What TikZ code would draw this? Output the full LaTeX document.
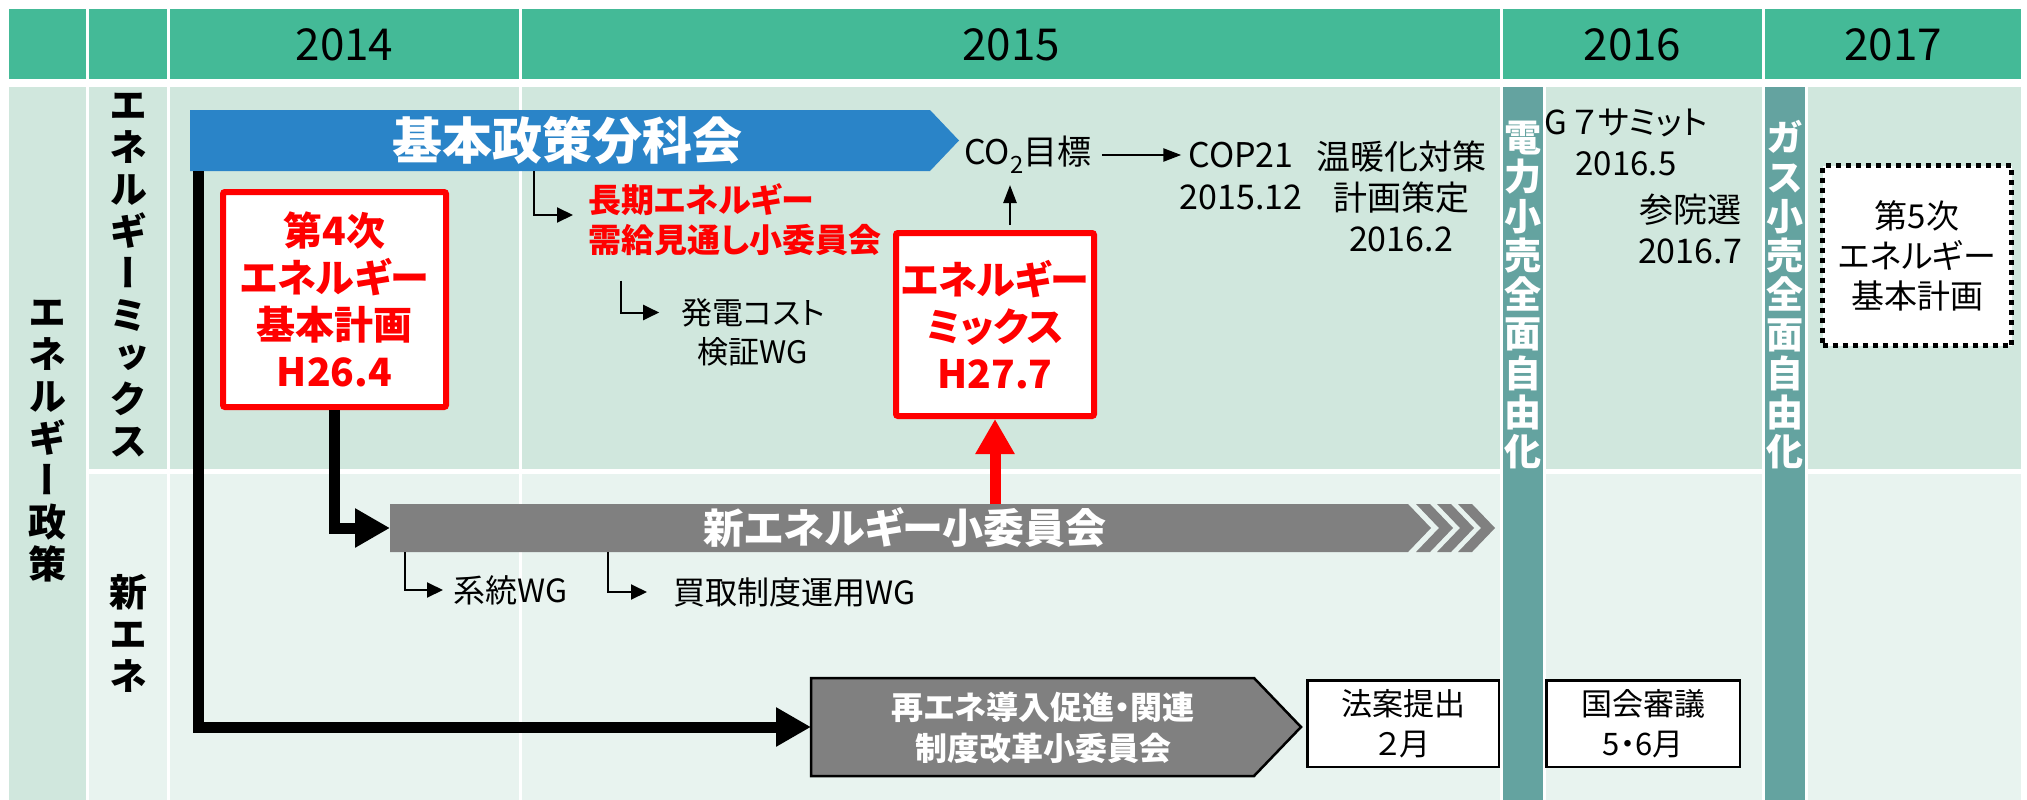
\documentclass[tikz,border=0pt]{standalone}
\usepackage{fontspec}
\setmainfont{Noto Sans CJK JP}[RawFeature=+palt]
\newfontfamily\jpv{Noto Sans CJK JP}[RawFeature=+vert]
\usetikzlibrary{arrows.meta}
\definecolor{hdr}{HTML}{44BA97}
\definecolor{upbg}{HTML}{D0E7DD}
\definecolor{lobg}{HTML}{E8F3EF}
\definecolor{tealbar}{HTML}{64A3A0}
\definecolor{blu}{HTML}{2A84C8}
\definecolor{gry}{HTML}{808080}
\tikzset{
  yr/.style={inner sep=0pt, font=\fontsize{44}{50}\selectfont},
  vtxt/.style={align=center, inner sep=0pt, font=\jpv\bfseries\fontsize{38}{42}\selectfont},
  barlbl/.style={align=center, inner sep=0pt, text=white, font=\jpv\bfseries\fontsize{37}{39.25}\selectfont},
  redbox/.style={draw=red, line width=6pt, fill=white, rounded corners=2pt, align=center, text=red, font=\bfseries\fontsize{39}{47}\selectfont, inner sep=0pt},
  fatarrow/.style={line width=11pt, -{Triangle[length=35pt,width=37pt]}},
  thinarrow/.style={line width=2pt, -{Triangle[length=16pt,width=15pt]}},
  midarrow/.style={line width=2.5pt, -{Triangle[length=18pt,width=13pt]}},
  note/.style={align=center, inner sep=0pt, font=\fontsize{34}{41}\selectfont},
  wbox/.style={draw=black, line width=2.5pt, fill=white, align=center, inner sep=0pt, font=\fontsize{31}{40}\selectfont},
  ghost/.style={inner sep=0pt, outer sep=0pt, draw=none},
}
\begin{document}
\begin{tikzpicture}[x=1pt,y=-1pt]
\useasboundingbox (0,0) rectangle (2027,800);
\fill[white] (0,0) rectangle (2027,800);
% header
\fill[hdr] (9,9) rectangle (86,79);
\fill[hdr] (89,9) rectangle (167,79);
\fill[hdr] (170,9) rectangle (519,79);
\fill[hdr] (522,9) rectangle (1500,79);
\fill[hdr] (1503,9) rectangle (1762,79);
\fill[hdr] (1765,9) rectangle (2021,79);
\node[yr] (y14) at (344.5,45) {2014};
\node[yr] (y15) at (1011,45) {2015};
\node[yr] (y16) at (1632.5,45) {2016};
\node[yr] (y17) at (1893,45) {2017};
% body
\fill[upbg] (9,87) rectangle (86,800);
\fill[upbg] (89,87) rectangle (167,469);
\fill[lobg] (89,474) rectangle (167,800);
\foreach \a/\b in {170/519,522/1500,1546/1762,1808/2021}{
  \fill[upbg] (\a,87) rectangle (\b,469);
  \fill[lobg] (\a,474) rectangle (\b,800);
}
\fill[tealbar] (1503,87) rectangle (1543,800);
\fill[tealbar] (1765,87) rectangle (1805,800);
% side labels
\node[vtxt] (vpol) at (47.5,441) {エ\\ネ\\ル\\ギ\\ー\\政\\策};
\node[vtxt] (vmix) at (128,275) {エ\\ネ\\ル\\ギ\\ー\\ミ\\ッ\\ク\\ス};
\node[vtxt] (vnew) at (128,633) {新\\エ\\ネ};
\node[barlbl] (vden) at (1523,295) {電\\力\\小\\売\\全\\面\\自\\由\\化};
\node[barlbl] (vgas) at (1785,295) {ガ\\ス\\小\\売\\全\\面\\自\\由\\化};
% blue arrow
\node[ghost, minimum width=740pt, minimum height=61pt] (kihon) at (560,140.5) {};
\fill[blu] (kihon.north west) -- (kihon.north east) -- ([xshift=29pt]kihon.east) -- (kihon.south east) -- (kihon.south west) -- cycle;
\node[inner sep=0pt, text=white, font=\bfseries\fontsize{50}{56}\selectfont] (kihont) at (567,140) {基本政策分科会};
% red box 1
\node[redbox, minimum width=223pt, minimum height=215pt] (redA) at (334.5,299.5) {第4次\\エネルギー\\基本計画\\H26.4};
% grey arrow shin-ene
\node[ghost, minimum width=1018pt, minimum height=48pt] (shin) at (899,528) {};
\fill[gry] (shin.north west) -- (shin.north east) -- ([xshift=23pt]shin.east) -- (shin.south east) -- (shin.south west) -- cycle;
\foreach \a in {1416,1437,1458}{
  \fill[gry] (\a,504) -- ++(14,0) -- ++(23,24) -- ++(-23,24) -- ++(-14,0) -- ++(23,-24) -- cycle;
}
\node[inner sep=0pt, text=white, font=\bfseries\fontsize{41}{46}\selectfont] (shint) at (905,527) {新エネルギー小委員会};
% red box 2
\node[redbox, minimum width=198pt, minimum height=183pt] (redB) at (995,324.5) {エネルギー\\ミックス\\H27.7};
% saiene shape
\node[ghost, minimum width=443pt, minimum height=98pt] (saiE) at (1032.5,727) {};
\draw[fill=gry, line width=2.5pt, line join=miter] (saiE.north west) -- (saiE.north east) -- ([xshift=47pt]saiE.east) -- (saiE.south east) -- (saiE.south west) -- cycle;
\node[inner sep=0pt, text=white, align=center, font=\bfseries\fontsize{32}{41}\selectfont] (saiEt) at (1043,727.5) {再エネ導入促進・関連\\制度改革小委員会};
% small boxes
\node[wbox, minimum width=191.5pt, minimum height=86.5pt] (houan) at (1403,723.5) {法案提出\\２月};
\node[wbox, minimum width=193.5pt, minimum height=86.5pt] (kokkai) at (1643,723.5) {国会審議\\5・6月};
\node[draw=black, line width=5pt, dash pattern=on 5pt off 5pt, fill=white, minimum width=189pt, minimum height=180pt, align=center, inner sep=0pt, font=\fontsize{33}{40}\selectfont] (dai5) at (1917,255.5) {第5次\\エネルギー\\基本計画};
% texts
\node[anchor=west, inner sep=0pt, align=left, text=red, font=\bfseries\fontsize{33}{40}\selectfont] (chouki) at (588,220) {長期エネルギー\\需給見通し小委員会};
\node[note, font=\fontsize{31}{39}\selectfont] (hatsu) at (753,332.5) {発電コスト\\検証WG};
\node[anchor=west, inner sep=0pt, font=\fontsize{32}{40}\selectfont] (keitou) at (453,590) {系統WG};
\node[anchor=west, inner sep=0pt, font=\fontsize{32}{40}\selectfont] (kaitori) at (673,592) {買取制度運用WG};
\node[inner sep=0pt, font=\fontsize{34}{41}\selectfont] (co2) at (1028,155) {CO\textsubscript{2}目標};
\node[inner sep=0pt, font=\fontsize{34}{41}\selectfont] (cop) at (1241,155) {COP21};
\node[inner sep=0pt, font=\fontsize{34}{41}\selectfont] (copd) at (1241,197) {2015.12};
\node[note] (ondan) at (1401,196) {温暖化対策\\計画策定\\2016.2};
\node[note, font=\fontsize{33}{41}\selectfont] (g7) at (1626,142.5) {G\,７サミット\\2016.5};
\node[note] (san) at (1690,229) {参院選\\2016.7};
% connectors
\draw[fatarrow] ([xshift=8.5pt]kihon.south west) |- (saiE.west);
\draw[fatarrow] (redA.south) |- (shin.west);
\draw[fatarrow, red] (redB.south |- shin.north) -- (redB.south);
\draw[thinarrow] ([xshift=344pt]kihon.south west) |- ([xshift=-15pt,yshift=5pt]chouki.west);
\draw[thinarrow] ([xshift=-60pt,yshift=52pt]hatsu.west) |- ([xshift=-22pt,yshift=20pt]hatsu.west);
\draw[thinarrow] ([xshift=15pt]shin.south west) |- ([xshift=-10pt]keitou.west);
\draw[thinarrow] ([xshift=218pt]shin.south west) |- ([xshift=-26pt]kaitori.west);
\draw[midarrow] ([xshift=10pt]co2.east) -- ([xshift=-7pt]cop.west);
\draw[midarrow] ([xshift=15pt,yshift=5pt]redB.north) -- ++(0,-40);
\end{tikzpicture}
\end{document}
